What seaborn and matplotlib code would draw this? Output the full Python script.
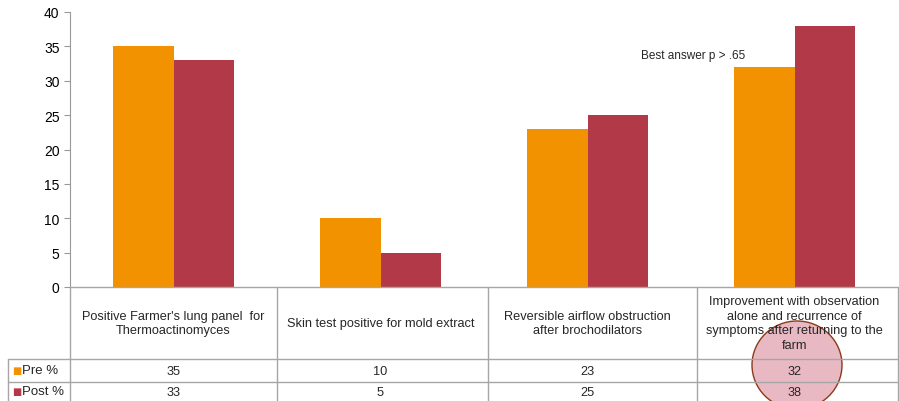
import pandas as pd
import seaborn as sns
import matplotlib.pyplot as plt
from matplotlib.lines import Line2D
from matplotlib.patches import Ellipse


categories = [
    "Positive Farmer's lung panel  for\nThermoactinomyces",
    "Skin test positive for mold extract",
    "Reversible airflow obstruction\nafter brochodilators",
    "Improvement with observation\nalone and recurrence of\nsymptoms after returning to the\nfarm",
]
pre = [35, 10, 23, 32]
post = [33, 5, 25, 38]
series = ["Pre %", "Post %"]
colors = ["#F39200", "#B23A48"]

df = pd.DataFrame({
    "category": categories * 2,
    "value": pre + post,
    "series": [series[0]] * 4 + [series[1]] * 4,
})

sns.set_style("white")
plt.rcParams["font.family"] = ["Liberation Sans", "DejaVu Sans"]

W, H = 899, 402
fig = plt.figure(figsize=(W / 100, H / 100), dpi=100)
ax = fig.add_axes([70 / W, 1 - 288 / H, 828 / W, 275 / H])

sns.barplot(
    data=df,
    x="category",
    y="value",
    hue="series",
    palette=colors,
    width=0.58,
    saturation=1,
    linewidth=0,
    legend=False,
    ax=ax
)

ax.set_ylim(0, 40)
ax.set_xlim(-0.5, 3.5)
ax.set_yticks(range(0, 41, 5))
ax.tick_params(axis="y", labelsize=10, colors="#999999", labelcolor="black",
               left=True, length=4, direction="out")
ax.tick_params(axis="x", bottom=False, labelbottom=False)
ax.set_xlabel("")
ax.set_ylabel("")
for side in ["top", "right", "bottom"]:
    ax.spines[side].set_visible(False)
ax.spines["left"].set_color("#999999")

ax.text(2.26, 33.7, "Best answer p > .65", fontsize=8.5, va="center", ha="left")


def fx(px):
    return px / W


def fy(py):
    return 1 - py / H


# highlight circle on the last column, drawn under the table text
fig.add_artist(Ellipse((fx(797), fy(366)), 90 / W, 88 / H,
                       transform=fig.transFigure, facecolor="#E8B9C2",
                       edgecolor="#8B3A1A", linewidth=1, zorder=-1))

line_kw = dict(color="#A6A6A6", linewidth=1, transform=fig.transFigure)
col_edges = [70, 277, 488, 697, 898]
for x in col_edges:
    fig.add_artist(Line2D([fx(x), fx(x)], [fy(288), fy(402)], **line_kw))
fig.add_artist(Line2D([fx(8), fx(8)], [fy(360), fy(402)], **line_kw))
fig.add_artist(Line2D([fx(70), fx(898)], [fy(288), fy(288)], **line_kw))
for y in [360, 383]:
    fig.add_artist(Line2D([fx(8), fx(898)], [fy(y), fy(y)], **line_kw))

xt = ax.get_xaxis_transform()
for i, cat in enumerate(categories):
    ax.text(i, -0.131, cat, transform=xt, ha="center", va="center",
            fontsize=9.2, clip_on=False, linespacing=1.3)
    ax.text(i, -0.304, str(pre[i]), transform=xt, ha="center", va="center",
            fontsize=9.2, clip_on=False)
    ax.text(i, -0.382, str(post[i]), transform=xt, ha="center", va="center",
            fontsize=9.2, clip_on=False)

for name, color, y in zip(series, colors, [371, 392]):
    fig.text(fx(12), fy(y), "■", color=color, fontsize=7, va="center",
             family=["DejaVu Sans"])
    fig.text(fx(22), fy(y), name, fontsize=9.5, va="center")

fig.savefig("out.png", dpi=100)
